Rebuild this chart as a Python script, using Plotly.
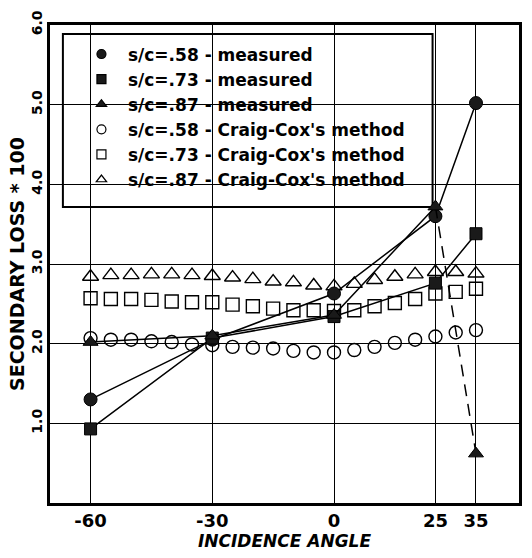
import plotly.graph_objects as go

# measured data
x_meas = [-60, -30, 0, 25, 35]
y_meas_58 = [1.30, 2.05, 2.63, 3.60, 5.02]
y_meas_73 = [0.93, 2.07, 2.34, 2.76, 3.38]
y_meas_87 = [2.02, 2.10, 2.36, 3.72, 0.62]

# Craig-Cox method
x_cc = [-60, -55, -50, -45, -40, -35, -30, -25, -20, -15, -10, -5, 0, 5, 10, 15, 20, 25, 30, 35]
y_cc_58 = [2.07, 2.05, 2.05, 2.03, 2.02, 1.99, 1.98, 1.96, 1.95, 1.94, 1.91, 1.89, 1.89, 1.92, 1.96, 2.01, 2.05, 2.09, 2.14, 2.17]
y_cc_73 = [2.57, 2.56, 2.56, 2.55, 2.53, 2.52, 2.52, 2.49, 2.47, 2.44, 2.42, 2.42, 2.41, 2.42, 2.47, 2.51, 2.56, 2.63, 2.65, 2.69]
y_cc_87 = [2.84, 2.86, 2.86, 2.87, 2.87, 2.86, 2.85, 2.83, 2.81, 2.78, 2.77, 2.73, 2.72, 2.75, 2.80, 2.84, 2.87, 2.90, 2.90, 2.88]

x_ticks = [-60, -30, 0, 25, 35]
x_tick_text = ["-60", "-30", "0", "25", "35"]
y_ticks = [1, 2, 3, 4, 5, 6]
y_tick_text = ["1.0", "2.0", "3.0", "4.0", "5.0", "6.0"]

names = [
    "s/c=.58 - measured",
    "s/c=.73 - measured",
    "s/c=.87 - measured",
    "s/c=.58 - Craig-Cox's method",
    "s/c=.73 - Craig-Cox's method",
    "s/c=.87 - Craig-Cox's method",
]
legend_symbols = ["circle", "square", "triangle-up", "circle-open", "square-open", "triangle-up-open"]

FONT = "DejaVu Sans, Liberation Sans, Arial, sans-serif"
FILL = "#1a1a1a"
fig = go.Figure()

# data traces
fig.add_trace(go.Scatter(x=x_cc, y=y_cc_58, mode="markers", showlegend=False,
                         marker=dict(symbol="circle-open", size=13, color="black", line=dict(width=1.4))))
fig.add_trace(go.Scatter(x=x_cc, y=y_cc_73, mode="markers", showlegend=False,
                         marker=dict(symbol="square-open", size=13, color="black", line=dict(width=1.4))))
fig.add_trace(go.Scatter(x=x_cc, y=y_cc_87, mode="markers", showlegend=False,
                         marker=dict(symbol="triangle-up-open", size=14, color="black", line=dict(width=1.4))))
fig.add_trace(go.Scatter(x=x_meas, y=y_meas_58, mode="lines+markers", showlegend=False,
                         line=dict(color="black", width=1.5),
                         marker=dict(symbol="circle", size=13, color=FILL, line=dict(color="black", width=1))))
fig.add_trace(go.Scatter(x=x_meas, y=y_meas_73, mode="lines+markers", showlegend=False,
                         line=dict(color="black", width=1.5),
                         marker=dict(symbol="square", size=12, color=FILL, line=dict(color="black", width=1))))
fig.add_trace(go.Scatter(x=x_meas[:4], y=y_meas_87[:4], mode="lines", showlegend=False,
                         line=dict(color="black", width=1.5)))
fig.add_trace(go.Scatter(x=x_meas[3:], y=y_meas_87[3:], mode="lines", showlegend=False,
                         line=dict(color="black", width=1.5, dash="12px,8px")))
fig.add_trace(go.Scatter(x=x_meas, y=y_meas_87, mode="markers", showlegend=False,
                         marker=dict(symbol="triangle-up", size=13, color=FILL, line=dict(color="black", width=1))))

# legend entries
for nm, sym in zip(names, legend_symbols):
    fig.add_trace(go.Scatter(x=[None], y=[None], mode="markers", name=nm,
                             marker=dict(symbol=sym, size=9, color=FILL if "open" not in sym else "black",
                                         line=dict(color="black", width=1.2))))

# legend frame (covers gridlines, under traces)
fig.add_shape(type="rect", xref="paper", yref="paper",
              x0=0.0275, x1=0.8157, y0=0.6195, y1=0.9813,
              fillcolor="white", line=dict(color="black", width=2), layer="between")

fig.update_layout(
    width=532, height=558,
    margin=dict(l=50, r=10, t=22, b=55),
    paper_bgcolor="white", plot_bgcolor="white",
    font=dict(family=FONT, color="black", size=15),
    showlegend=True,
    legend=dict(x=0.034, y=0.976, xanchor="left", yanchor="top",
                bgcolor="rgba(0,0,0,0)", borderwidth=0,
                font=dict(size=17, family=FONT, weight="bold"),
                traceorder="normal", itemwidth=43, indentation=9),
    xaxis=dict(range=[-70, 45.6], tickvals=x_ticks, ticktext=x_tick_text,
               showgrid=True, gridcolor="black", gridwidth=1,
               zeroline=False, showline=True, linecolor="black", linewidth=2.5, mirror=True,
               ticks="", tickfont=dict(size=18, weight="bold"),
               title=dict(text="<i>INCIDENCE ANGLE</i>", font=dict(size=17, weight="bold"), standoff=2)),
    yaxis=dict(range=[0, 6], tickvals=y_ticks, ticktext=y_tick_text, tickangle=-90,
               showgrid=True, gridcolor="black", gridwidth=1,
               zeroline=False, showline=True, linecolor="black", linewidth=2.5, mirror=True,
               ticks="", tickfont=dict(size=14, weight="bold"),
               title=dict(text="SECONDARY LOSS * 100", font=dict(size=19, weight="bold"), standoff=0)),
)

fig.write_html("out.html")
